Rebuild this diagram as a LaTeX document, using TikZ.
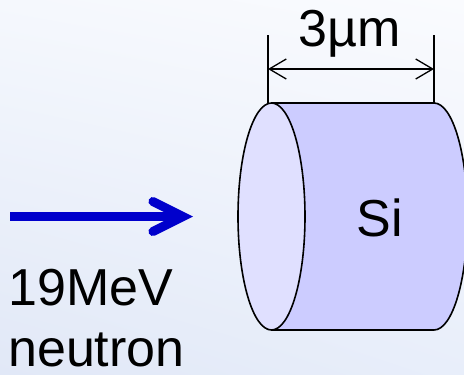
\documentclass[tikz,border=0pt]{standalone}
\usepackage{fontspec}
\setmainfont{Liberation Sans}
\usetikzlibrary{arrows.meta,shadings}
\definecolor{bgTL}{RGB}{245,248,253}
\definecolor{bgTR}{RGB}{250,251,254}
\definecolor{bgBL}{RGB}{225,232,247}
\definecolor{bgBR}{RGB}{232,238,250}
\definecolor{sideblue}{RGB}{204,204,255}
\definecolor{faceblue}{RGB}{224,224,255}
\definecolor{arrowblue}{RGB}{0,0,204}
\tikzset{
  bigtext/.style={font=\fontsize{52}{62}\selectfont, inner sep=0pt, text=black},
  outline/.style={draw=black, line width=1.6pt, line join=round},
  dimline/.style={draw=black, line width=1.2pt},
  dimarrow/.style={draw=black, line width=1.3pt, {Straight Barb[length=17pt,width=20pt]}-{Straight Barb[length=17pt,width=20pt]}},
  neutronarrow/.style={draw=arrowblue, line width=9pt, -{Straight Barb[length=30pt,width=30pt,line cap=round,line join=miter]}}
}
\begin{document}
\begin{tikzpicture}[x=1pt,y=-1pt]
\useasboundingbox (0,0) rectangle (464,375);
\shade[upper left=bgTL, upper right=bgTR, lower left=bgBL, lower right=bgBR] (0,0) rectangle (464,375);
% cylinder
\coordinate (ftop) at (271.5,103);
\coordinate (btop) at (434,103);
\coordinate (bbot) at (434,330);
\coordinate (fbot) at (271.5,330);
\path[fill=sideblue, outline] (ftop) -- (btop) arc[start angle=-90, end angle=90, x radius=33.5, y radius=113.5] -- (fbot) -- cycle;
\path[fill=faceblue, outline] (271.5,216.5) ellipse[x radius=33.5, y radius=113.5];
% dimension
\coordinate (dl1) at (268,35);
\coordinate (dl2) at (268,103);
\coordinate (dr1) at (434,35);
\coordinate (dr2) at (434,103);
\draw[dimline] (dl1) -- (dl2);
\draw[dimline] (dr1) -- (dr2);
\coordinate (al) at (268,69);
\coordinate (ar) at (434,69);
\draw[dimarrow] (al) -- (ar);
\node[bigtext, anchor=base] (dim) at (350,46.5) {3µm};
\node[bigtext, anchor=base] (si) at (380,236) {Si};
% neutron arrow
\coordinate (nstart) at (10,216.5);
\coordinate (ntip) at (193,216.5);
\draw[neutronarrow] (nstart) -- (ntip);
\node[bigtext, anchor=base west] (energy) at (8,305) {19MeV};
\node[bigtext, anchor=base west] (neutron) at (8,366) {neutron};
\end{tikzpicture}
\end{document}
